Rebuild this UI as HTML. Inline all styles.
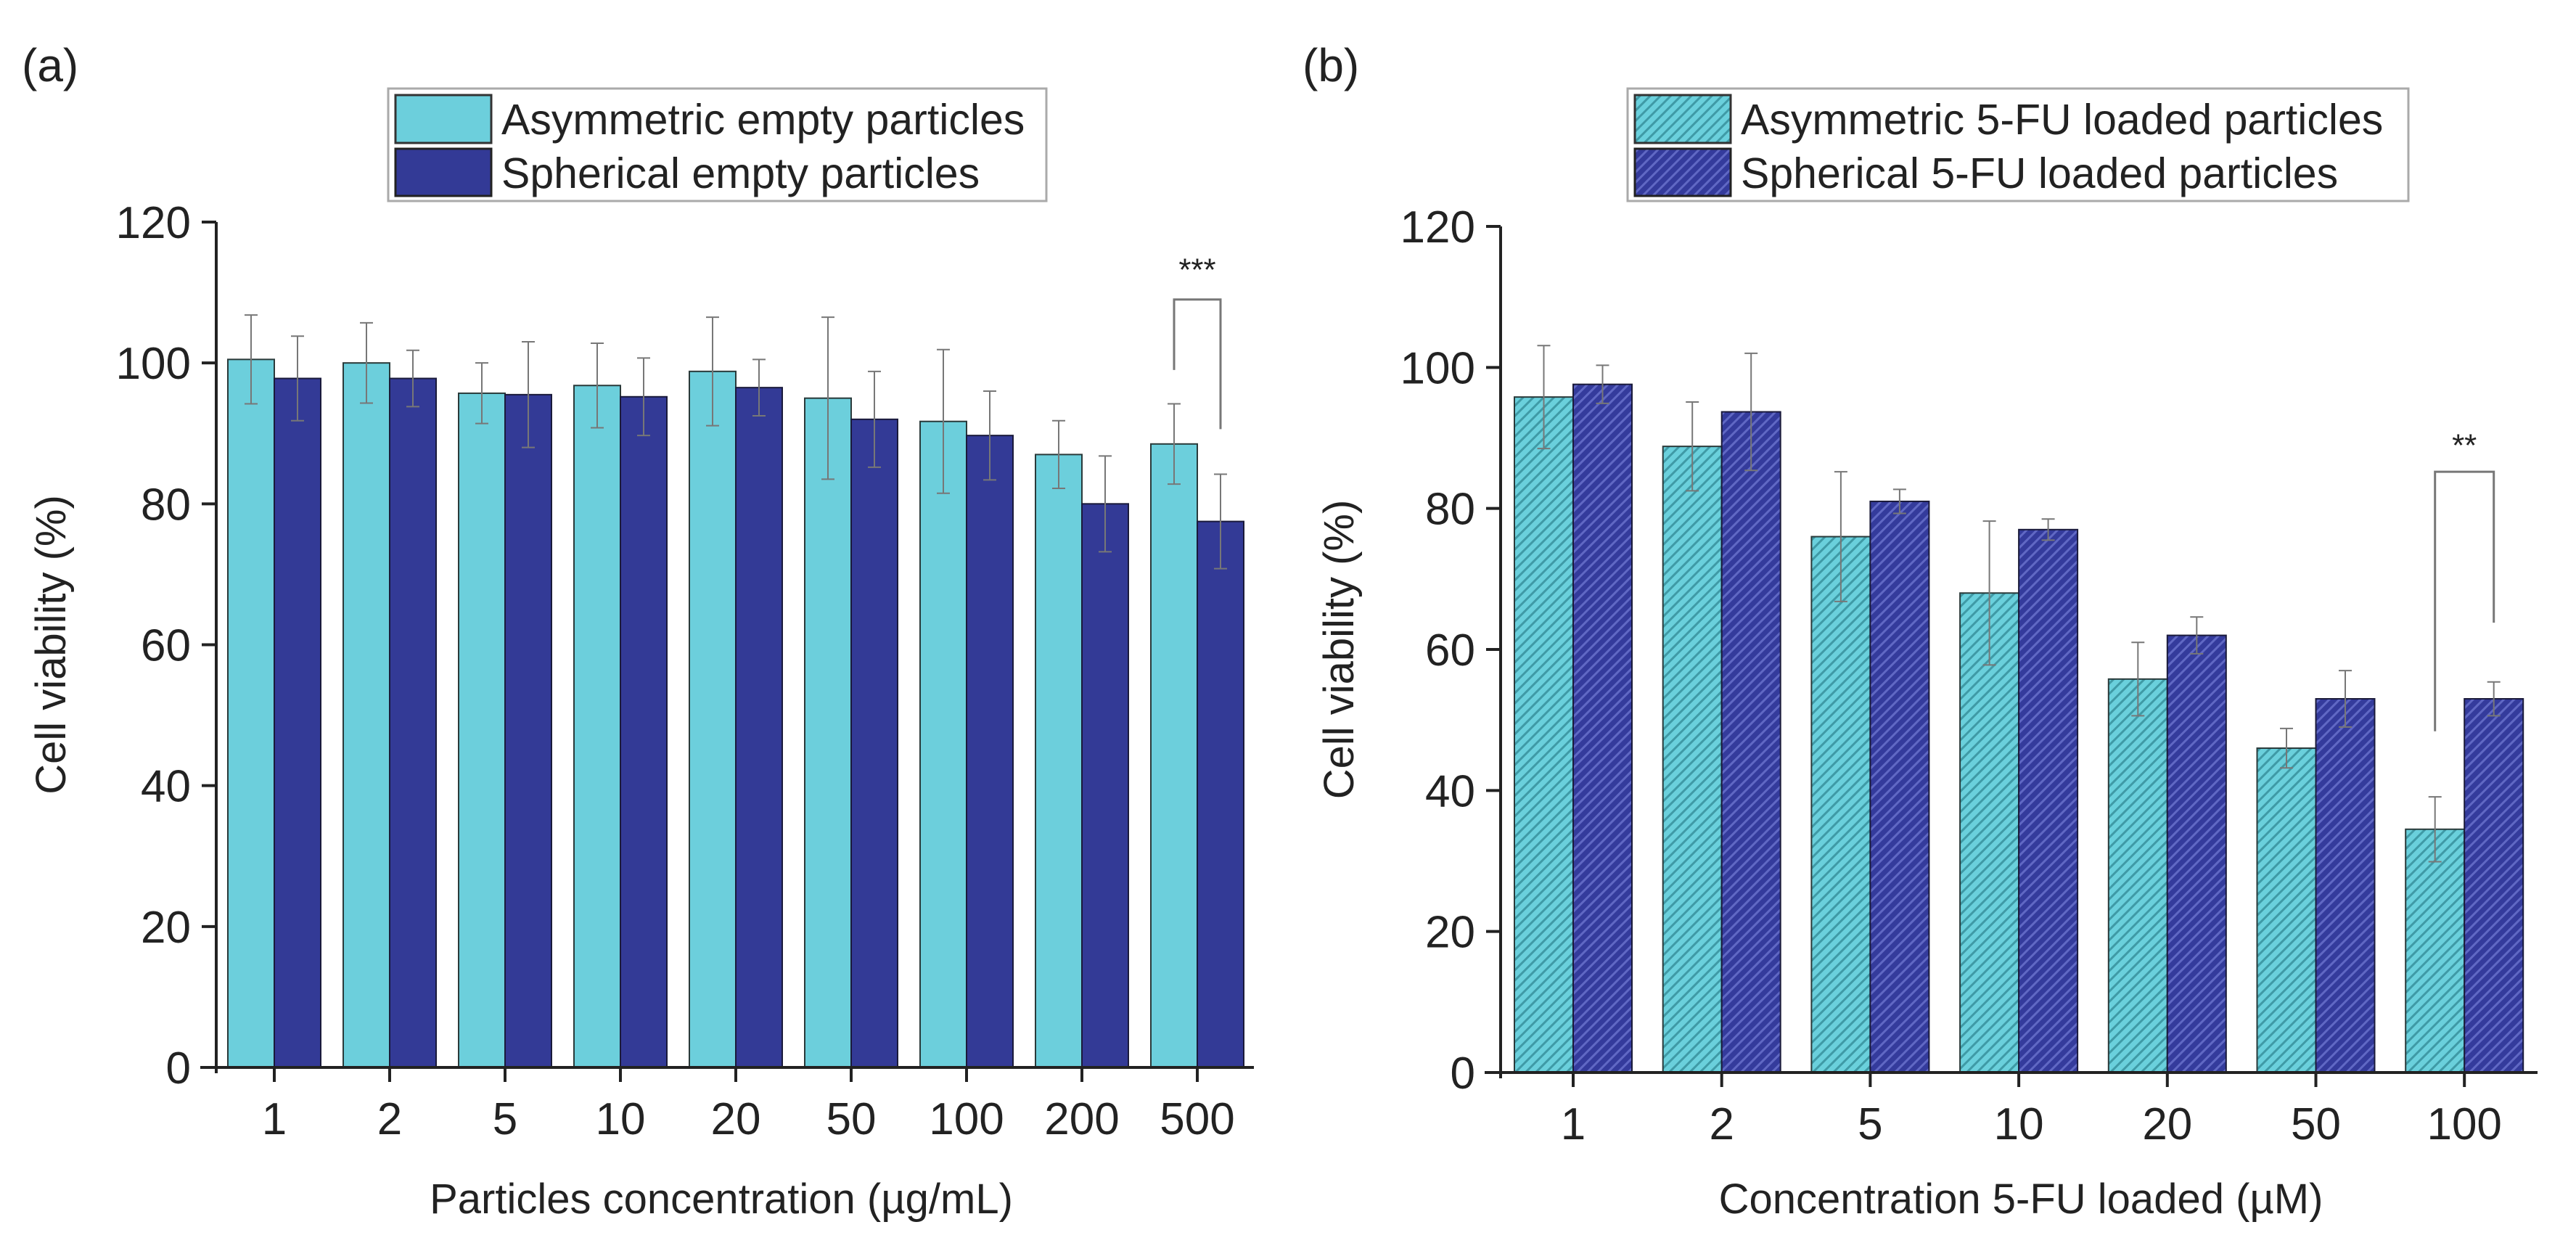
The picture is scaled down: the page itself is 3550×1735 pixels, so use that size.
<!DOCTYPE html>
<html><head><meta charset="utf-8"><style>
html,body{margin:0;padding:0;background:#fff;}
svg{display:block;font-family:"Liberation Sans",Arial,sans-serif;}
</style></head><body>
<svg id="fig" width="3550" height="1735" viewBox="0 0 3550 1735" xmlns="http://www.w3.org/2000/svg">
<defs>
<pattern id="hc" patternUnits="userSpaceOnUse" width="10" height="10" patternTransform="rotate(45)">
<rect width="10" height="10" fill="#6ad0dc"/><rect width="3" height="10" fill="#3f9aa6"/></pattern>
<pattern id="hn" patternUnits="userSpaceOnUse" width="10" height="10" patternTransform="rotate(45)">
<rect width="10" height="10" fill="#343b9c"/><rect width="3" height="10" fill="#6068c4"/></pattern>
</defs>
</svg>
<script>
const catsA=["1","2","5","10","20","50","100","200","500"];
const asymA=[100.5,100,95.7,96.8,98.8,95,91.7,87,88.5];
const asymAErr=[6.3,5.7,4.3,6,7.7,11.5,10.2,4.8,5.7];
const sphA=[97.8,97.8,95.5,95.2,96.5,92,89.7,80,77.5];
const sphAErr=[6,4,7.5,5.5,4,6.8,6.3,6.8,6.7];
const catsB=["1","2","5","10","20","50","100"];
const asymB=[95.8,88.8,76,68,55.8,46,34.5];
const asymBErr=[7.3,6.3,9.2,10.2,5.2,2.8,4.6];
const sphB=[97.6,93.7,81,77,62,53,53];
const sphBErr=[2.7,8.3,1.7,1.5,2.6,4,2.4];
const yTicks=[0,20,40,60,80,100,120];

const NS="http://www.w3.org/2000/svg";
const svg=document.getElementById('fig');
function el(tag,attrs,parent,text){const e=document.createElementNS(NS,tag);for(const k in attrs)e.setAttribute(k,attrs[k]);if(text!==undefined)e.textContent=text;(parent||svg).appendChild(e);return e;}

function panel(o){
  const g=el('g',{});
  
  
  const y=v=>o.y0-(v/120)*(o.y0-o.y120);
  const x=i=>o.x1+i*o.step;
  for(let i=0;i<o.cats.length;i++){
    const h1=y(0)-y(o.a[i]);
    const b1=el('rect',{x:x(i)-o.bw,y:y(o.a[i]),width:o.bw,height:h1,fill:o.fillA,stroke:'#2a3a3a','stroke-width':2},g);
    
    
    const b2=el('rect',{x:x(i),y:y(o.b[i]),width:o.bw,height:y(0)-y(o.b[i]),fill:o.fillB,stroke:'#1a1a3a','stroke-width':2},g);
    
    
    [[x(i)-o.bw/2,o.a[i],o.ae[i]],[x(i)+o.bw/2,o.b[i],o.be[i]]].forEach(([cx,v,e])=>{
      const eb=el('path',{d:`M${cx},${y(v-e)}V${y(v+e)}M${cx-9},${y(v+e)}H${cx+9}M${cx-9},${y(v-e)}H${cx+9}`,stroke:'#777','stroke-width':2,fill:'none'},g);
      
      
    });
    el('line',{x1:x(i),x2:x(i),y1:y(0),y2:y(0)+20,stroke:'#222','stroke-width':4},g);
    const t=el('text',{x:x(i),y:y(0)+92,'font-size':62,'text-anchor':'middle',fill:'#222'},g,o.cats[i]);
    
    
  }
  const ax=el('path',{d:`M${o.ax},${y(120)}V${y(0)+8}M${o.ax-22},${y(0)}H${o.xend}`,stroke:'#222','stroke-width':4,fill:'none'},g);
  
  
  yTicks.forEach(v=>{
    el('line',{x1:o.ax-20,x2:o.ax,y1:y(v),y2:y(v),stroke:'#222','stroke-width':4},g);
    const t=el('text',{x:o.ax-35,y:y(v)+22,'font-size':62,'text-anchor':'end',fill:'#222'},g,String(v));
    
    
  });
  const yt=el('text',{x:0,y:0,'font-size':58,'text-anchor':'middle',fill:'#222',transform:`translate(${o.ytx},${(y(0)+y(120))/2}) rotate(-90)`},g,'Cell viability (%)');
  
  
  const xt=el('text',{x:o.xtx,y:1672,'font-size':58,'text-anchor':'middle',fill:'#222'},g,o.xtitle);
  
  
  const pl=el('text',{x:o.plx,y:112,'font-size':64,fill:'#222'},g,o.plabel);
  
  
  const lg=el('g',{},g);
  
  
  el('rect',{x:o.lx,y:122,width:o.lw,height:155,fill:'#fff',stroke:'#aaa','stroke-width':3},lg);
  el('rect',{x:o.lx+10,y:131,width:132,height:66,fill:o.fillA,stroke:'#333','stroke-width':3},lg);
  el('rect',{x:o.lx+10,y:205,width:132,height:65,fill:o.fillB,stroke:'#222','stroke-width':3},lg);
  const l1=el('text',{x:o.lx+156,y:185,'font-size':59,fill:'#222'},lg,o.la);
  
  
  const l2=el('text',{x:o.lx+156,y:259,'font-size':59,fill:'#222'},lg,o.lb);
  
  
  const k=o.sig.i, lx=x(k)-o.bw/2, rx=x(k)+o.bw/2;
  const br=el('path',{d:`M${lx},${y(o.sig.l)}V${y(o.sig.t)}H${rx}V${y(o.sig.r)}`,stroke:'#777','stroke-width':3,fill:'none'},g);
  
  
  const st=el('text',{x:(lx+rx)/2,y:y(o.sig.s)+22,'font-size':44,'text-anchor':'middle',fill:'#222'},g,o.sig.txt);
  
  
}
panel({name:'panel-a',cats:catsA,a:asymA,ae:asymAErr,b:sphA,be:sphAErr,x1:378,step:159,bw:64,ax:298,xend:1728,y0:1471,y120:306,
  fillA:'#6ccfdc',fillB:'#333a96',ytx:90,xtx:994,xtitle:'Particles concentration (µg/mL)',plx:30,plabel:'(a)',
  lx:535,lw:907,la:'Asymmetric empty particles',lb:'Spherical empty particles',sig:{i:8,l:99,t:109,r:90.6,s:114,txt:'***'}});
panel({name:'panel-b',cats:catsB,a:asymB,ae:asymBErr,b:sphB,be:sphBErr,x1:2168,step:204.7,bw:81,ax:2068,xend:3497,y0:1478,y120:312,
  fillA:'url(#hc)',fillB:'url(#hn)',ytx:1865,xtx:2785,xtitle:'Concentration 5-FU loaded (µM)',plx:1795,plabel:'(b)',
  lx:2243,lw:1076,la:'Asymmetric 5-FU loaded particles',lb:'Spherical 5-FU loaded particles',sig:{i:6,l:48.4,t:85.2,r:63.8,s:89.7,txt:'**'}});
</script>
</body></html>
